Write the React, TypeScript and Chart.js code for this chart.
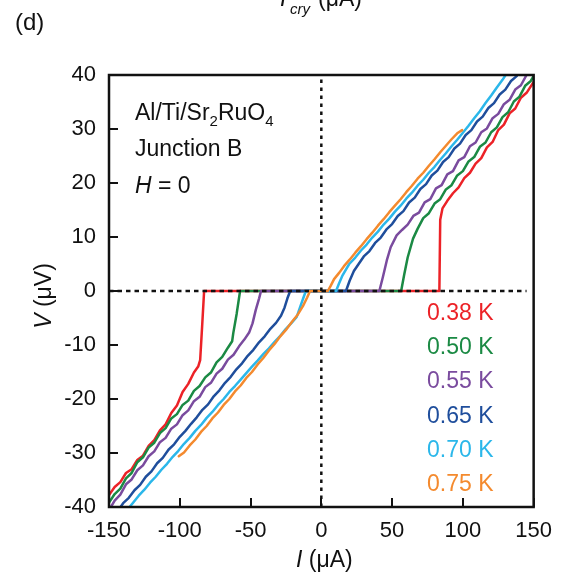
import { useEffect, useRef } from "react";
import { Chart, registerables } from "chart.js";

Chart.register(...registerables);

type Pt = [number, number];

const temperatures = ["0.38 K", "0.50 K", "0.55 K", "0.65 K", "0.70 K", "0.75 K"];
const colors = ["#ec2227", "#1b8a44", "#7a4b9e", "#1f4e9c", "#2bb7ea", "#f48a2e"];

// I (µA), V (µV)
const curve038: Pt[] = [
  [-150, -37.8], [-146, -36.3], [-142, -35.4], [-138, -33.7], [-134, -33.0], [-130, -31.3],
  [-126, -30.5], [-122, -28.7], [-118, -27.6], [-114, -25.8], [-110, -24.7], [-106, -22.6],
  [-102, -21.2], [-98, -18.7], [-94, -17.2], [-90, -15.1], [-87, -14.0], [-85.6, -12.8],
  [-84.2, -6.5], [-82.8, 0], [83.4, 0], [84.0, 13.2], [85.6, 15.3], [89, 16.7], [93, 18.1],
  [97, 19.2], [101, 20.9], [105, 21.9], [109, 23.6], [113, 24.6], [117, 26.6], [121, 27.6],
  [125, 29.8], [129, 30.8], [133, 32.9], [137, 33.8], [141, 35.8], [145, 36.7], [150, 38.7],
];
const curve050: Pt[] = [
  [-150, -39.2], [-146, -37.6], [-142, -36.6], [-138, -34.7], [-134, -33.7], [-130, -31.7],
  [-126, -30.8], [-122, -29.0], [-118, -28.1], [-114, -26.3], [-110, -25.4], [-106, -23.6],
  [-102, -22.8], [-98, -21.1], [-94, -20.3], [-90, -18.5], [-86, -17.6], [-82, -16.0],
  [-78, -15.1], [-74, -13.2], [-70, -12.2], [-66, -10.5], [-63, -9.3], [-62.2, -7.8],
  [-59.8, -4.2], [-57.4, 0], [56.4, 0], [58.6, 3.1], [61, 6.2], [64.8, 9.7], [68, 11.5],
  [72, 13.5], [76, 14.4], [80, 16.2], [84, 17.0], [88, 18.8], [92, 19.6], [96, 21.4],
  [100, 22.2], [104, 24.0], [108, 24.8], [112, 26.7], [116, 27.5], [120, 29.4], [124, 30.3],
  [128, 32.2], [132, 33.1], [136, 35.1], [140, 36.0], [144, 38.0], [148, 38.9], [151, 40.3],
];
const curve055: Pt[] = [
  [-150, -40.6], [-146, -38.8], [-142, -37.7], [-138, -35.8], [-134, -34.9], [-130, -33.2],
  [-126, -32.3], [-122, -30.6], [-118, -29.7], [-114, -28.0], [-110, -27.2], [-106, -25.5],
  [-102, -24.7], [-98, -23.0], [-94, -22.1], [-90, -20.4], [-86, -19.6], [-82, -17.8],
  [-78, -17.0], [-74, -15.3], [-70, -14.4], [-66, -12.7], [-62, -11.8], [-58, -10.2],
  [-54.4, -9.0], [-51, -7.7], [-48.6, -6.0], [-46.3, -3.5], [-44, -1.4], [-42.6, 0],
  [41, 0], [43.5, 2.6], [46.3, 5.7], [49, 8.1], [53.2, 10.3], [57, 11.3], [61, 12.3],
  [65, 13.9], [69, 14.5], [73, 16.4], [77, 17.0], [81, 19.0], [85, 19.6], [89, 21.6],
  [93, 22.2], [97, 24.2], [101, 24.8], [105, 26.8], [109, 27.5], [113, 29.4], [117, 30.1],
  [121, 32.0], [125, 32.8], [129, 34.6], [133, 35.4], [137, 37.3], [141, 38.1], [145, 40.0],
  [148, 40.7],
];
const curve065: Pt[] = [
  [-144, -40.8], [-140, -39.3], [-136, -38.3], [-132, -36.9], [-128, -35.9], [-124, -34.4],
  [-120, -33.4], [-116, -31.9], [-112, -30.9], [-108, -29.4], [-104, -28.4], [-100, -27.0],
  [-96, -25.9], [-92, -24.6], [-88, -23.4], [-84, -22.0], [-80, -21.0], [-76, -19.5],
  [-72, -18.4], [-68, -17.0], [-64, -15.9], [-60, -14.5], [-56, -13.4], [-52, -12.0],
  [-48, -10.9], [-44, -9.5], [-40, -8.4], [-36, -7.0], [-32, -5.9], [-28.5, -4.6],
  [-26, -3.1], [-24, -1.4], [-22, 0], [17.4, 0], [20, 1.9], [23, 3.7], [26.6, 5.1],
  [30, 6.4], [34, 7.4], [38, 8.9], [42, 9.9], [46, 11.4], [50, 12.4], [54, 13.9],
  [58, 14.8], [62, 16.4], [66, 17.3], [70, 18.9], [74, 19.8], [78, 21.4], [82, 22.3],
  [86, 23.9], [90, 24.8], [94, 26.4], [98, 27.3], [102, 28.9], [106, 29.8], [110, 31.4],
  [114, 32.3], [118, 33.9], [122, 34.8], [126, 36.4], [130, 37.3], [134, 38.9], [138, 39.8],
  [141, 41.0],
];
const curve070: Pt[] = [
  [-137, -40.5], [-133, -39.2], [-129, -37.9], [-125, -36.8], [-121, -35.5], [-117, -34.4],
  [-113, -33.1], [-109, -32.0], [-105, -30.7], [-101, -29.6], [-97, -28.3], [-93, -27.2],
  [-89, -25.9], [-85, -24.8], [-81, -23.5], [-77, -22.4], [-73, -21.1], [-69, -20.0],
  [-65, -18.7], [-61, -17.6], [-57, -16.4], [-53, -15.2], [-49, -14.0], [-45, -12.9],
  [-41, -11.7], [-37, -10.6], [-33, -9.4], [-29, -8.3], [-25, -7.0], [-21, -5.9],
  [-17.4, -4.8], [-15, -3.0], [-12.6, -1.2], [-10.9, 0], [10.4, 0], [12.5, 1.4], [15, 2.9],
  [19.7, 5.0], [24, 6.2], [28, 7.5], [32, 8.6], [36, 9.9], [40, 11.0], [44, 12.3],
  [48, 13.4], [52, 14.7], [56, 15.8], [60, 17.1], [64, 18.2], [68, 19.5], [72, 20.6],
  [76, 21.9], [80, 23.0], [84, 24.3], [88, 25.5], [92, 26.8], [96, 28.0], [100, 29.3],
  [104, 30.6], [108, 32.0], [112, 33.3], [116, 34.8], [120, 36.2], [124, 37.7], [128, 39.1],
  [131, 40.3],
];
const curve075: Pt[] = [
  [-100.7, -30.6], [-97, -29.9], [-93, -28.6], [-89, -27.5], [-85, -26.1], [-81, -25.0],
  [-77, -23.6], [-73, -22.5], [-69, -21.1], [-65, -20.0], [-61, -18.6], [-57, -17.5],
  [-53, -16.1], [-49, -15.0], [-45, -13.6], [-41, -12.4], [-37, -11.0], [-33, -9.8],
  [-29, -8.4], [-25, -7.2], [-21, -5.8], [-17, -4.5], [-13, -2.8], [-10, -1.2], [-8, 0],
  [4.6, 0], [6.5, 0.9], [9, 2.2], [12.7, 3.4], [16, 4.6], [20, 5.8], [24, 7.1], [28, 8.3],
  [32, 9.6], [36, 10.8], [40, 12.1], [44, 13.3], [48, 14.6], [52, 15.8], [56, 17.0],
  [60, 18.3], [64, 19.5], [68, 20.8], [72, 21.9], [76, 23.2], [80, 24.4], [84, 25.7],
  [88, 26.9], [92, 28.1], [96, 29.2], [99.5, 29.8],
];

const curves: Pt[][] = [curve038, curve050, curve055, curve065, curve070, curve075];

const xRange = [-150, 150];
const yRange = [-40, 40];
const xStep = 50;
const yStep = 10;
const zeroLineH: Pt[] = [[-150, 0], [145, 0]];
const zeroLineV: Pt[] = [[0, -40], [0, 40]];

const annotationLines = ["Al/Ti/Sr", "Junction B", "H = 0"];

const FONT = "'Liberation Sans', Arial, Helvetica, sans-serif";
const INK = "#111111";

type Seg = { t: string; size: number; italic?: boolean; dy?: number; x?: number };

function drawSegs(ctx: CanvasRenderingContext2D, segs: Seg[], x: number, y: number) {
  let cx = x;
  for (const s of segs) {
    if (s.x !== undefined) cx = s.x;
    ctx.font = `${s.italic ? "italic " : ""}${s.size}px ${FONT}`;
    ctx.fillText(s.t, cx, y + (s.dy || 0));
    cx += ctx.measureText(s.t).width;
  }
}
function segsWidth(ctx: CanvasRenderingContext2D, segs: Seg[]) {
  let w = 0;
  for (const s of segs) {
    ctx.font = `${s.italic ? "italic " : ""}${s.size}px ${FONT}`;
    w += ctx.measureText(s.t).width;
  }
  return w;
}

const decorPlugin = {
  id: "decor",
  afterDatasetsDraw(chart: any) {
    const { ctx, chartArea: a, scales } = chart;
    ctx.save();
    ctx.strokeStyle = INK;
    ctx.lineWidth = 2.5;
    ctx.strokeRect(a.left, a.top, a.right - a.left, a.bottom - a.top);
    ctx.lineWidth = 2;
    ctx.beginPath();
    for (const t of scales.x.ticks) {
      const px = Math.round(scales.x.getPixelForValue(t.value));
      ctx.moveTo(px, a.bottom);
      ctx.lineTo(px, a.bottom - 9);
    }
    for (const t of scales.y.ticks) {
      const py = Math.round(scales.y.getPixelForValue(t.value));
      ctx.moveTo(a.left, py);
      ctx.lineTo(a.left + 9, py);
    }
    ctx.stroke();
    ctx.restore();
  },
  afterDraw(chart: any) {
    const { ctx, chartArea: a } = chart;
    ctx.save();
    ctx.textBaseline = "alphabetic";
    ctx.textAlign = "left";
    ctx.fillStyle = INK;

    // panel letter
    drawSegs(ctx, [{ t: "(d)", size: 24 }], 15, 30);
    // cut-off axis label of the panel above
    drawSegs(ctx, [
      { t: "I", size: 23, italic: true, x: 280 },
      { t: "cry", size: 15, italic: true, dy: 8, x: 290 },
      { t: "(μA)", size: 23, x: 318 },
    ], 280, 6);

    // annotation
    const ax = a.left + 26;
    drawSegs(ctx, [
      { t: annotationLines[0], size: 23 },
      { t: "2", size: 15, dy: 6 },
      { t: "RuO", size: 23 },
      { t: "4", size: 15, dy: 6 },
    ], ax, 120);
    drawSegs(ctx, [{ t: annotationLines[1], size: 23 }], ax, 156);
    drawSegs(ctx, [{ t: "H", size: 23, italic: true }, { t: " = 0", size: 23 }], ax, 192.5);

    // temperature labels
    ctx.font = `23px ${FONT}`;
    temperatures.forEach((label, i) => {
      ctx.fillStyle = colors[i];
      ctx.fillText(label, 427, 320 + i * 34.2);
    });

    // axis titles
    ctx.fillStyle = INK;
    const xt: Seg[] = [{ t: "I", size: 23, italic: true }, { t: " (μA)", size: 23 }];
    const xw = segsWidth(ctx, xt);
    drawSegs(ctx, xt, (a.left + a.right) / 2 + 3 - xw / 2, 567);

    const yt: Seg[] = [{ t: "V", size: 23, italic: true }, { t: " (μV)", size: 23 }];
    const yw = segsWidth(ctx, yt);
    ctx.translate(51, (a.top + a.bottom) / 2 + 5);
    ctx.rotate(-Math.PI / 2);
    drawSegs(ctx, yt, -yw / 2, 0);
    ctx.restore();
  },
};

export default function App() {
  const ref = useRef<HTMLCanvasElement | null>(null);
  useEffect(() => {
    if (!ref.current) return;
    const toXY = (pts: Pt[]) => pts.map(([x, y]) => ({ x, y }));
    const chart = new Chart(ref.current, {
      type: "scatter",
      data: {
        datasets: [
          {
            label: "zeroH",
            data: toXY(zeroLineH),
            showLine: true,
            borderColor: INK,
            borderWidth: 2.5,
            borderDash: [4.5, 4],
            pointRadius: 0,
            order: 0,
            clip: 0,
          },
          {
            label: "zeroV",
            data: toXY(zeroLineV),
            showLine: true,
            borderColor: INK,
            borderWidth: 2.5,
            borderDash: [3.5, 4.5],
            pointRadius: 0,
            order: 0,
            clip: 0,
          },
          ...curves.map((c, i) => ({
            label: temperatures[i],
            data: toXY(c),
            showLine: true,
            borderColor: colors[i],
            borderWidth: 2.5,
            borderJoinStyle: "round" as const,
            borderCapStyle: "round" as const,
            pointRadius: 0,
            tension: 0,
            order: 6 - i,
            clip: 0,
          })),
        ],
      },
      options: {
        responsive: false,
        animation: false,
        events: [],
        layout: { padding: { left: 0, top: 75, right: 22, bottom: 0 } },
        plugins: { legend: { display: false }, tooltip: { enabled: false } },
        scales: {
          x: {
            type: "linear",
            min: xRange[0],
            max: xRange[1],
            grid: { display: false, drawTicks: false },
            border: { display: false },
            ticks: {
              stepSize: xStep,
              color: INK,
              font: { family: FONT, size: 22 },
              padding: 11,
              maxRotation: 0,
            },
            afterFit: (s: any) => { s.height = 70; },
          },
          y: {
            type: "linear",
            min: yRange[0],
            max: yRange[1],
            grid: { display: false, drawTicks: false },
            border: { display: false },
            ticks: {
              stepSize: yStep,
              color: INK,
              font: { family: FONT, size: 22 },
              padding: 13,
            },
            afterFit: (s: any) => { s.width = 109; },
          },
        },
      },
      plugins: [decorPlugin],
    });
    return () => chart.destroy();
  }, []);
  return (
    <div style={{ position: "absolute", left: 0, top: 0, width: 563, height: 577, background: "#fff" }}>
      <canvas ref={ref} width={563} height={577} style={{ width: 563, height: 577, display: "block" }} />
    </div>
  );
}
